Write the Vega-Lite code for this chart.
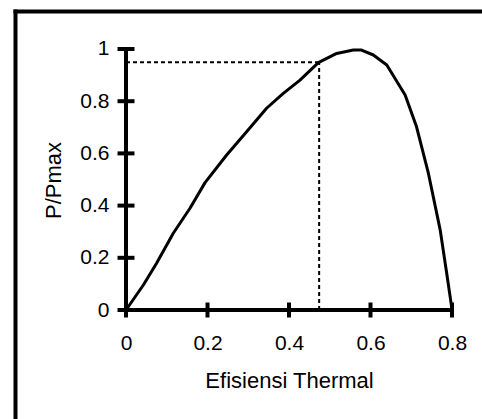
{
  "$schema": "https://vega.github.io/schema/vega-lite/v6.json",
  "width": 467,
  "height": 408,
  "autosize": {"type": "none"},
  "padding": {"left": 15, "top": 11, "right": 0, "bottom": 0},
  "background": "white",
  "config": {
    "view": {"stroke": null},
    "font": "Liberation Sans"
  },
  "datasets": {
    "curve": [
      {"x": 0, "y": 0},
      {"x": 0.0426, "y": 0.0958},
      {"x": 0.075, "y": 0.179},
      {"x": 0.116, "y": 0.294},
      {"x": 0.157, "y": 0.39},
      {"x": 0.194, "y": 0.488},
      {"x": 0.247, "y": 0.594},
      {"x": 0.296, "y": 0.683},
      {"x": 0.345, "y": 0.773},
      {"x": 0.386, "y": 0.83},
      {"x": 0.427, "y": 0.881},
      {"x": 0.472, "y": 0.948},
      {"x": 0.517, "y": 0.983},
      {"x": 0.558, "y": 0.996},
      {"x": 0.578, "y": 0.996},
      {"x": 0.607, "y": 0.977},
      {"x": 0.64, "y": 0.939},
      {"x": 0.685, "y": 0.824},
      {"x": 0.713, "y": 0.702},
      {"x": 0.742, "y": 0.524},
      {"x": 0.771, "y": 0.307},
      {"x": 0.787, "y": 0.141},
      {"x": 0.799, "y": 0.013},
      {"x": 0.8, "y": 0}
    ],
    "guides": [
      {"x": 0, "y": 0.949, "x2": 0.474, "y2": 0.949},
      {"x": 0.474, "y": 0, "x2": 0.474, "y2": 0.949}
    ],
    "axislines": [
      {"x": 0, "y": 0, "x2": 0.8, "y2": 0},
      {"x": 0, "y": 0, "x2": 0, "y2": 1}
    ],
    "xticks": [
      {"x": 0, "y": 0},
      {"x": 0.2, "y": 0},
      {"x": 0.4, "y": 0},
      {"x": 0.6, "y": 0},
      {"x": 0.8, "y": 0}
    ],
    "yticks": [
      {"x": 0, "y": 0},
      {"x": 0, "y": 0.2},
      {"x": 0, "y": 0.4},
      {"x": 0, "y": 0.6},
      {"x": 0, "y": 0.8},
      {"x": 0, "y": 1}
    ]
  },
  "encoding": {
    "x": {
      "field": "x",
      "type": "quantitative",
      "scale": {"domain": [-0.27239, 0.87362], "nice": false, "zero": false},
      "axis": {
        "orient": "top",
        "values": [0, 0.2, 0.4, 0.6, 0.8],
        "format": "~g",
        "title": "Efisiensi Thermal",
        "grid": false,
        "domain": true,
        "domainWidth": 4,
        "domainColor": "black",
        "domainCap": "square",
        "ticks": false,
        "tickSize": 0,
        "labelPadding": -338,
        "labelBaseline": "alphabetic",
        "labelFontSize": 21,
        "labelFont": "Liberation Sans",
        "labelColor": "black",
        "labelFlush": false,
        "labelOverlap": false,
        "titleX": 274,
        "titleY": 376,
        "titleBaseline": "alphabetic",
        "titleAlign": "center",
        "titleFontSize": 22,
        "titleFontWeight": "normal",
        "titleFont": "Liberation Sans",
        "titleColor": "black"
      }
    },
    "y": {
      "field": "y",
      "type": "quantitative",
      "scale": {"domain": [-0.41762, 1.14559], "nice": false, "zero": false},
      "axis": {
        "orient": "left",
        "values": [0, 0.2, 0.4, 0.6, 0.8, 1],
        "format": "~g",
        "title": "P/Pmax",
        "grid": false,
        "domain": true,
        "domainWidth": 4,
        "domainColor": "black",
        "domainCap": "square",
        "ticks": false,
        "tickSize": 0,
        "labelPadding": -94,
        "labelAlign": "right",
        "labelBaseline": "middle",
        "labelFontSize": 21,
        "labelFont": "Liberation Sans",
        "labelColor": "black",
        "labelFlush": false,
        "labelOverlap": false,
        "titleX": 38,
        "titleY": 169,
        "titleAngle": -90,
        "titleBaseline": "middle",
        "titleAlign": "center",
        "titleFontSize": 22,
        "titleFontWeight": "normal",
        "titleFont": "Liberation Sans",
        "titleColor": "black"
      }
    }
  },
  "layer": [
    {
      "data": {"name": "guides"},
      "mark": {"type": "rule", "color": "black", "strokeWidth": 2, "strokeDash": [4, 3]},
      "encoding": {"x2": {"field": "x2"}, "y2": {"field": "y2"}}
    },
    {
      "data": {"name": "axislines"},
      "mark": {"type": "rule", "color": "black", "strokeWidth": 4},
      "encoding": {"x2": {"field": "x2"}, "y2": {"field": "y2"}}
    },
    {
      "data": {"name": "xticks"},
      "mark": {"type": "tick", "orient": "vertical", "color": "black", "opacity": 1, "size": 15, "thickness": 4}
    },
    {
      "data": {"name": "yticks"},
      "mark": {"type": "tick", "orient": "horizontal", "color": "black", "opacity": 1, "size": 17, "thickness": 4}
    },
    {
      "data": {"name": "curve"},
      "mark": {"type": "line", "color": "black", "strokeWidth": 3, "strokeJoin": "round"}
    }
  ]
}
